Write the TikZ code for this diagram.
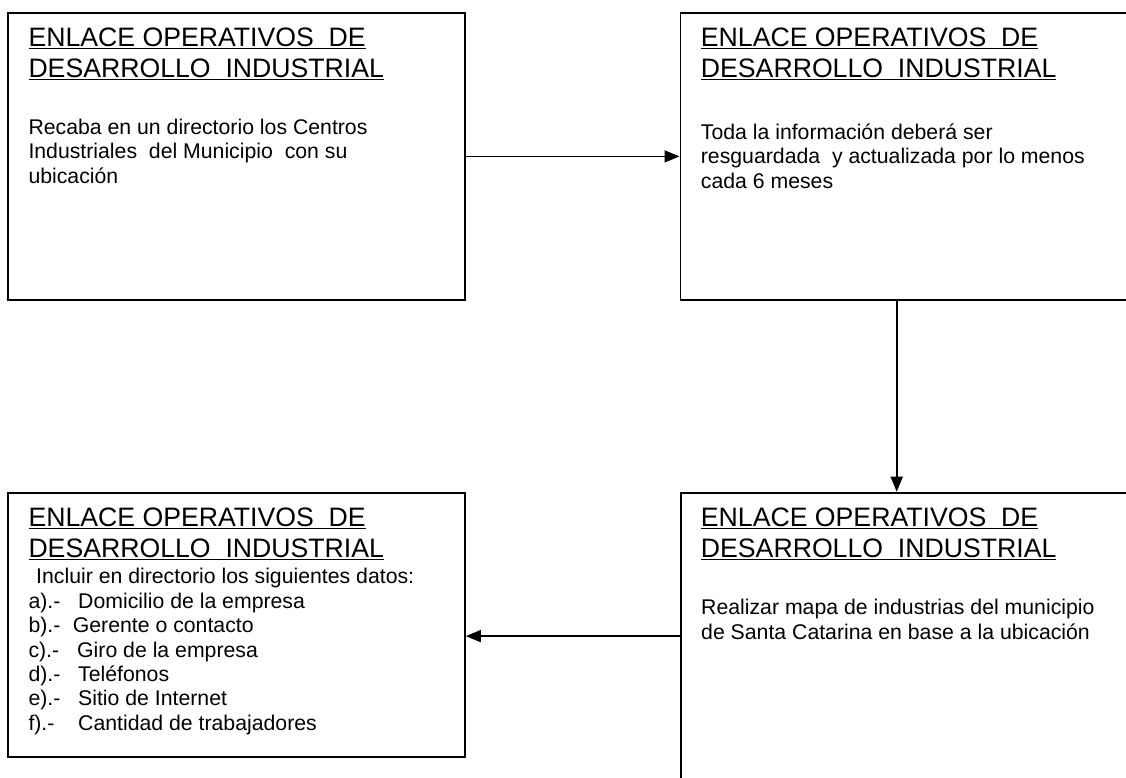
\documentclass[tikz,border=0pt]{standalone}
\usepackage{fontspec}
\setmainfont{Liberation Sans}
\usetikzlibrary{arrows.meta}

\tikzset{
  caja/.style={draw, line width=1.8pt, minimum width=456.7pt, minimum height=287pt, anchor=north west, inner sep=0pt},
  titulo/.style={align=left, anchor=base west, inner sep=0pt, font=\fontsize{26.66}{31}\selectfont},
  texto/.style={align=left, anchor=base west, inner sep=0pt, font=\fontsize{21.25}{24.5}\selectfont},
  flecha/.style={line width=1.7pt, -{Triangle[length=15pt,width=12pt]}}
}
\newcommand{\enc}{\underline{ENLACE OPERATIVOS\ \ DE}\\\underline{DESARROLLO\ \ INDUSTRIAL}}
\newcommand{\inciso}[3]{\makebox[#1][l]{#2}#3}

\begin{document}
\begin{tikzpicture}[x=1pt,y=-1pt]
  \useasboundingbox (0,0) rectangle (1126,777);
  \clip (0,0) rectangle (1126,777);
      %Cajas
  \node[caja] (caja1) at (7.3,12) {};
  \node[caja] (caja2) at (679.5,12) {};
  \node[caja, minimum height=264pt] (caja3) at (7.3,491.7) {};
  \node[caja] (caja4) at (679.7,491.7) {};

      %Titulos (base = ultima linea)
  \node[titulo] (tit1) at ([shift={(21,65.7)}]caja1.north west) {\enc};
  \node[titulo] (tit2) at ([shift={(21.2,65.7)}]caja2.north west) {\enc};
  \node[titulo] (tit3) at ([shift={(21,65.6)}]caja3.north west) {\enc};
  \node[titulo] (tit4) at ([shift={(21,65.6)}]caja4.north west) {\enc};

      %Textos
  \node[texto] (txt1) at ([shift={(21,171.3)}]caja1.north west)
    {Recaba en un directorio los Centros\\Industriales\ \ del Municipio\ \ con su\\ubicación};
  \node[texto] (txt2) at ([shift={(21.2,176.3)}]caja2.north west)
    {Toda la información deberá ser\\resguardada\ \ y actualizada por lo menos\\cada 6 meses};
  \node[texto, font=\fontsize{21.25}{24.4}\selectfont] (txt3) at ([shift={(21,238.5)}]caja3.north west)
    {\hspace*{7.7pt}Incluir en directorio los siguientes datos:\\
     \inciso{49.7pt}{a).-}{Domicilio de la empresa}\\
     \inciso{44.4pt}{b).-}{Gerente o contacto}\\
     \inciso{48.7pt}{c).-}{Giro de la empresa}\\
     \inciso{49.7pt}{d).-}{Teléfonos}\\
     \inciso{49.7pt}{e).-}{Sitio de Internet}\\
     \inciso{49.7pt}{f).-}{Cantidad de trabajadores}};
  \node[texto] (txt4) at ([shift={(21.3,147.3)}]caja4.north west)
    {Realizar mapa de industrias del municipio\\de Santa Catarina en base a la ubicación};

      %Flechas
  \coordinate (bajada) at ([xshift=217.2pt]caja2.south west);
  \draw[flecha] (caja1.east) -- (caja2.west);
  \draw[flecha] (bajada) -- (bajada |- caja4.north);
  \draw[flecha] (caja4.west) -- (caja4.west -| caja3.east);
\end{tikzpicture}
\end{document}
